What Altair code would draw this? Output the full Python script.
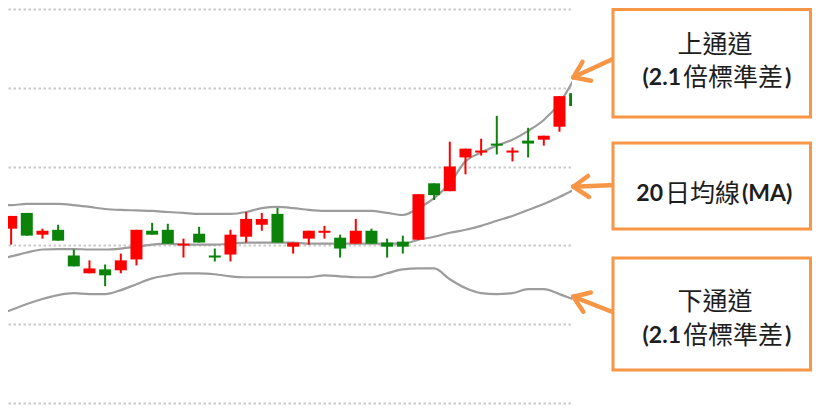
import altair as alt
import pandas as pd

# ---------------- data ----------------
day = list(range(38))
open_ = [51.49, 51.06, 52.06, 50.68, 50.99, 49.36, 48.23, 48.48, 48.42, 49.11,
         50.93, 50.99, 49.99, 50.74, 49.36, 49.42, 50.55, 51.31, 52.00, 49.92,
         50.43, 50.80, 50.49, 50.11, 50.93, 50.18, 50.24, 50.36, 53.94, 53.44,
         55.58, 55.89, 56.46, 55.89, 56.65, 56.71, 57.53, 59.66]
close = [51.06, 51.87, 50.62, 50.93, 50.30, 48.67, 48.54, 48.10, 49.05, 50.99,
         50.68, 50.11, 50.11, 50.18, 49.23, 50.68, 51.68, 51.68, 50.18, 50.18,
         50.93, 50.93, 49.80, 50.93, 50.11, 49.92, 49.92, 53.25, 53.19, 55.01,
         56.14, 56.02, 56.33, 56.02, 56.46, 56.96, 59.47, 58.84]
high = [51.68, 51.87, 52.06, 51.06, 51.31, 49.74, 49.05, 48.79, 49.48, 50.99,
        51.43, 51.37, 50.43, 51.18, 49.80, 50.99, 52.12, 52.06, 52.37, 50.18,
        50.93, 51.24, 50.68, 51.68, 51.06, 50.43, 50.62, 53.25, 53.94, 56.58,
        56.14, 56.77, 58.22, 56.21, 57.46, 56.96, 59.47, 59.97]
low = [51.06, 50.05, 50.62, 50.43, 50.30, 48.67, 48.23, 47.41, 48.23, 48.73,
       50.68, 50.11, 49.23, 50.18, 48.98, 48.98, 50.18, 50.93, 50.18, 49.48,
       50.05, 50.43, 49.23, 50.11, 50.11, 49.23, 49.48, 50.36, 52.88, 53.44,
       54.51, 55.70, 55.77, 55.33, 55.58, 56.33, 57.21, 58.84]

upper = [52.56, 52.56, 52.63, 52.63, 52.63, 52.56, 52.44, 52.31, 52.25, 52.22,
         52.19, 52.12, 52.06, 52.00, 52.00, 52.00, 52.12, 52.37, 52.44, 52.37,
         52.25, 52.19, 52.19, 52.19, 52.19, 52.06, 51.93, 52.37, 53.00, 53.94,
         55.33, 55.89, 56.33, 56.71, 57.27, 57.96, 59.03, 60.67]
middle = [49.05, 49.30, 49.55, 49.74, 49.77, 49.77, 49.74, 49.74, 49.80, 49.92,
          50.05, 50.11, 50.05, 50.05, 50.05, 50.11, 50.18, 50.18, 50.18, 50.18,
          50.11, 50.11, 50.11, 50.11, 50.11, 50.11, 50.11, 50.36, 50.55, 50.80,
          50.99, 51.24, 51.56, 51.87, 52.25, 52.63, 53.07, 53.57]
lower = [45.53, 45.90, 46.28, 46.60, 46.85, 46.97, 46.91, 46.91, 47.16, 47.54,
         47.91, 48.10, 48.23, 48.23, 48.17, 48.04, 47.98, 47.98, 47.98, 47.98,
         47.98, 48.10, 48.04, 47.98, 47.98, 48.23, 48.48, 48.54, 48.54, 47.85,
         47.29, 46.97, 46.91, 46.97, 47.22, 47.22, 46.91, 46.53]

grid_values = [40, 45, 50, 55, 60, 65]

# ---------------- annotation layout (pixels in the plot frame) ----------------
seg_x = [607, 565.3, 565.3, 607, 565.3, 565.3, 607, 565.3, 565.3]
seg_y = [49, 68.3, 68.3, 176, 177.7, 177.7, 304, 287.7, 287.7]
seg_x2 = [565.3, 574.5, 583, 565.3, 580, 581, 565.3, 582.8, 575.3]
seg_y2 = [68.3, 52.8, 71.7, 177.7, 167, 188, 287.7, 283.5, 302.7]

box_x = [605, 605, 605]
box_x2 = [802.5, 802.5, 802.5]
box_y = [0.5, 134, 249]
box_y2 = [108, 220, 361]

center_txt = ["上通道", "下通道"]
center_x = [707, 707]
center_y = [36, 293]

rbold_txt = ["(2.1", "20", "(2.1"]
rbold_x = [673, 655, 673]
rbold_y = [69, 184.5, 327]

lreg_txt = ["倍標準差", "日均線", "倍標準差"]
lreg_x = [675, 657, 675]
lreg_y = [69, 184.5, 327]

lbold_txt = [")", "(MA)", ")"]
lbold_x = [777, 734, 777]
lbold_y = [69, 184.5, 327]

# ---------------- tables ----------------
candles = pd.DataFrame({"day": day, "open": open_, "close": close,
                        "high": high, "low": low})
bands = pd.concat([
    pd.DataFrame({"day": day, "value": upper, "band": "upper"}),
    pd.DataFrame({"day": day, "value": middle, "band": "middle"}),
    pd.DataFrame({"day": day, "value": lower, "band": "lower"}),
])
segs = pd.DataFrame({"x": seg_x, "y": seg_y, "x2": seg_x2, "y2": seg_y2})
boxes = pd.DataFrame({"x": box_x, "y": box_y, "x2": box_x2, "y2": box_y2})

xs = alt.Scale(domain=[0.8, 36.8], nice=False, zero=False, padding=0)
ys = alt.Scale(domain=[40, 65], nice=False, zero=False, padding=0)
X = alt.X("day:Q", scale=xs, axis=None)

lines = alt.Chart(bands).mark_line(
    clip=True, color="#9c9c9c", strokeWidth=2.2, interpolate="monotone"
).encode(
    x=X,
    y=alt.Y("value:Q", scale=ys, axis=alt.Axis(
        values=grid_values, labels=False, ticks=False, domain=False, grid=True,
        gridDash=[2.5, 2.5], gridColor="#cacaca", gridWidth=2, title=None)),
    detail="band:N",
)

updown = alt.condition("datum.close >= datum.open",
                       alt.value("#ff0000"), alt.value("#0b830b"))

wicks = alt.Chart(candles).mark_rule(clip=True, strokeWidth=2).encode(
    x=X,
    y=alt.Y("low:Q", scale=ys, axis=None),
    y2="high:Q",
    color=updown,
)
bodies = alt.Chart(candles).mark_bar(clip=True, size=12).encode(
    x=X,
    y=alt.Y("open:Q", scale=ys, axis=None),
    y2="close:Q",
    color=updown,
)

PX = lambda f: alt.X(f, scale=None, axis=None)
PY = lambda f: alt.Y(f, scale=None, axis=None)

arrows = alt.Chart(segs).mark_rule(
    color="#f79646", strokeWidth=4.5, strokeCap="round"
).encode(x=PX("x:Q"), y=PY("y:Q"), x2="x2:Q", y2="y2:Q")

rects = alt.Chart(boxes).mark_rect(
    fill="white", stroke="#f79646", strokeWidth=3
).encode(x=PX("x:Q"), y=PY("y:Q"), x2="x2:Q", y2="y2:Q")

def text_layer(txt, xv, yv, align, font, size, weight):
    d = pd.DataFrame({"t": txt, "x": xv, "y": yv})
    return alt.Chart(d).mark_text(
        align=align, baseline="middle", font=font, fontSize=size,
        fontWeight=weight, color="#1e1e1e"
    ).encode(x=PX("x:Q"), y=PY("y:Q"), text="t:N")

cjk = "Noto Sans CJK TC"
t1 = text_layer(center_txt, center_x, center_y, "center", cjk, 25, "normal")
t2 = text_layer(rbold_txt, rbold_x, rbold_y, "right", "Lato", 23, "bold")
t3 = text_layer(lreg_txt, lreg_x, lreg_y, "left", cjk, 25, "normal")
t4 = text_layer(lbold_txt, lbold_x, lbold_y, "left", "Lato", 23, "bold")

chart = alt.layer(lines, wicks, bodies, arrows, rects, t1, t2, t3, t4).resolve_scale(
    x="independent", y="independent"
).properties(
    width=564, height=394,
    padding={"left": 0, "top": 1, "right": 240, "bottom": 3},
    autosize=alt.AutoSizeParams(type="none"),
    background="white",
).configure_view(stroke=None)

chart.save("out.html", embed_options={"renderer": "svg", "actions": False})
